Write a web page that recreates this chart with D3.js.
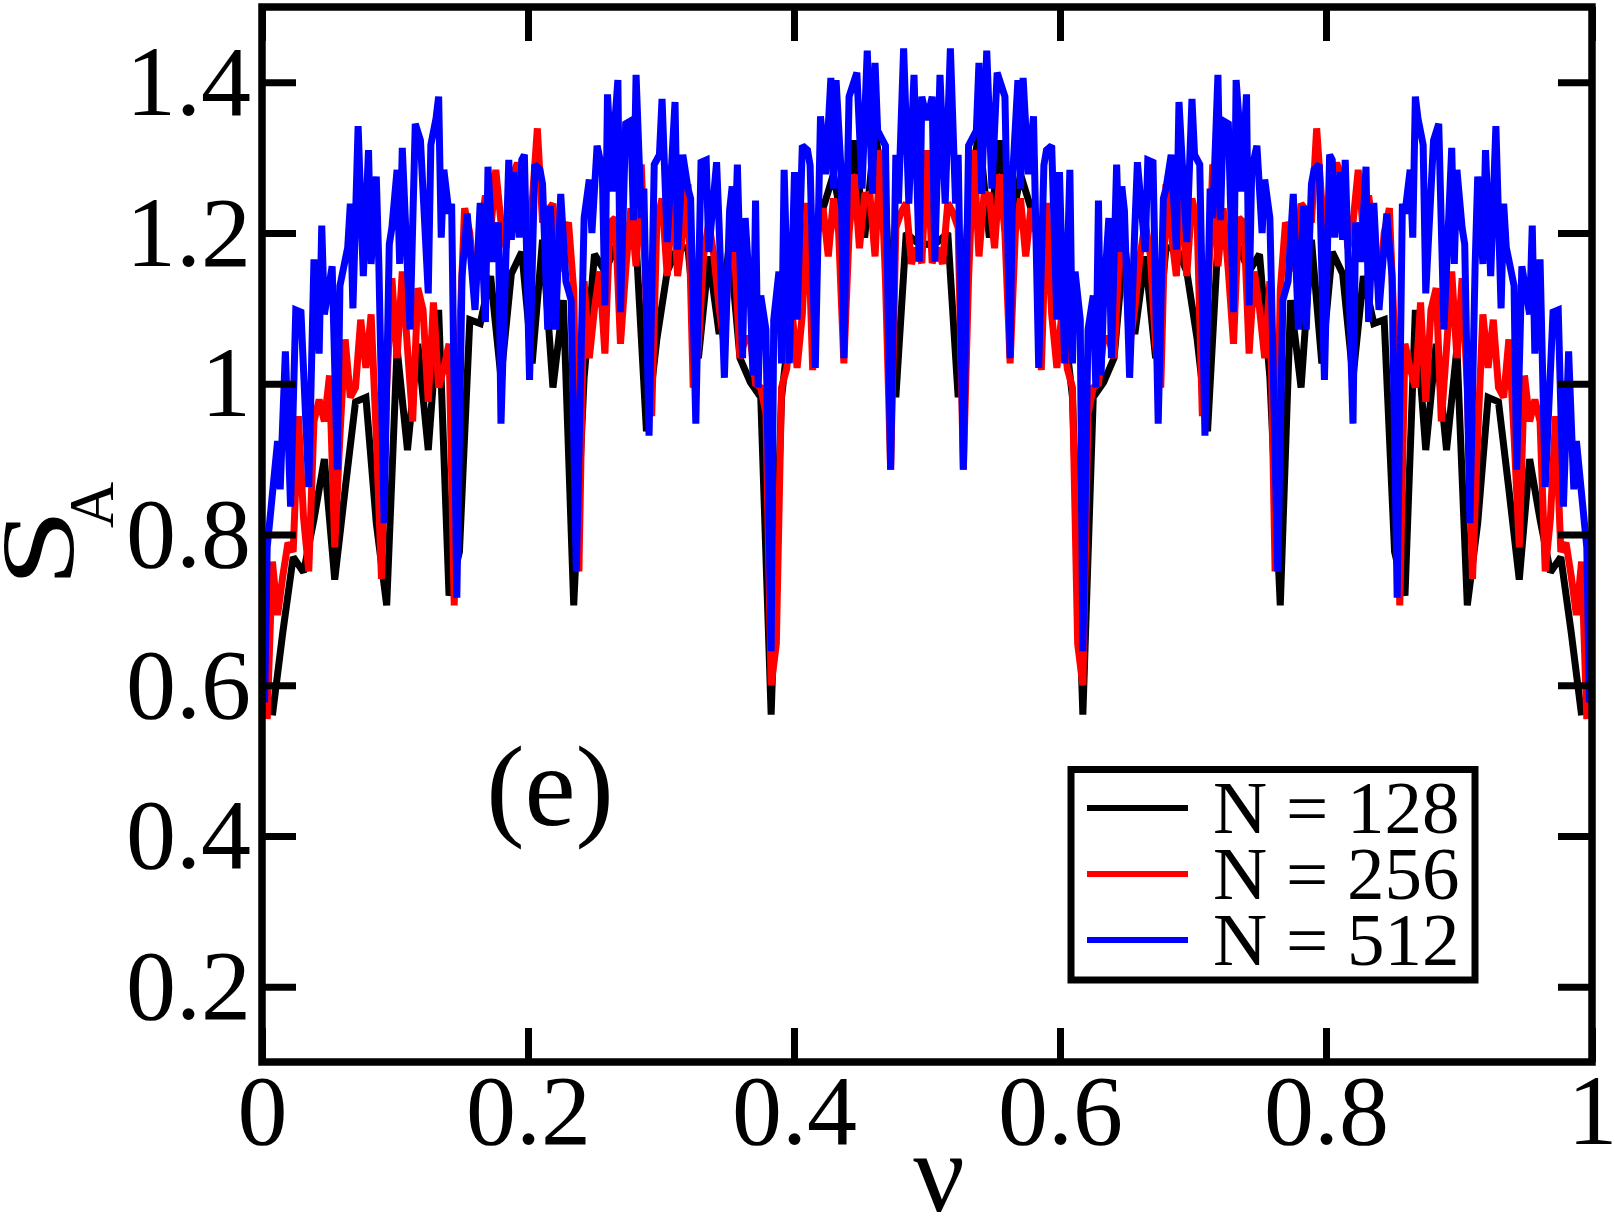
<!DOCTYPE html>
<html><head><meta charset="utf-8">
<script src="https://cdn.jsdelivr.net/npm/d3@7"></script>
<style>html,body{margin:0;padding:0;background:#fff;} svg{display:block;}</style>
</head><body>
<svg id="chart" width="1615" height="1219"></svg>
<script>
// ---------- data ----------
const xTicks = [0, 0.2, 0.4, 0.6, 0.8, 1];
const xTickLabels = ["0", "0.2", "0.4", "0.6", "0.8", "1"];
const yTicks = [0.2, 0.4, 0.6, 0.8, 1.0, 1.2, 1.4];
const yTickLabels = ["0.2", "0.4", "0.6", "0.8", "1", "1.2", "1.4"];
const seriesNames = ["N = 128", "N = 256", "N = 512"];
const seriesColors = ["#000000", "#ff0000", "#0000ff"];

// N = 128 : S_A at nu = k/128, k = 1..127
const black128 = [0.56,0.67,0.77,0.75,0.82,0.90,0.74,0.86,0.976,0.982,
0.815,0.706,1.047,0.912,1.053,0.912,1.098,0.719,0.777,1.085,
1.08,1.143,1.008,1.146,1.175,1.027,1.191,0.995,1.111,0.706,
1.008,1.172,1.149,1.181,1.19,1.188,0.937,1.059,1.149,1.181,
1.18,1.034,1.169,1.066,1.188,1.034,1.002,0.982,0.561,0.982,
1.104,1.117,1.2,1.233,1.278,1.2,1.323,1.194,1.336,1.24,
0.982,1.2,1.188,1.185,
1.188,1.2,0.982,1.24,1.336,1.194,1.323,1.2,1.278,1.233,
1.2,1.117,1.104,0.982,0.561,0.982,1.002,1.034,1.188,1.066,
1.169,1.034,1.18,1.181,1.149,1.059,0.937,1.188,1.19,1.181,
1.149,1.172,1.008,0.706,1.111,0.995,1.191,1.027,1.175,1.146,
1.008,1.143,1.08,1.085,0.777,0.719,1.098,0.912,1.053,0.912,
1.047,0.706,0.815,0.982,0.976,0.86,0.74,0.90,0.82,0.75,
0.77,0.67,0.56];

// N = 256 : S_A at nu = k/256, k = 1..255
const red256 = [0.555,0.764,0.693,0.745,0.789,0.777,0.957,0.822,0.751,0.95,
0.979,0.95,1.011,0.783,0.931,1.059,0.982,0.995,1.085,1.021,
1.092,0.931,0.741,0.995,1.14,1.034,1.149,1.047,0.95,1.127,
1.098,0.976,1.108,0.995,1.021,1.053,0.706,1.06,1.233,1.2,
1.12,1.2,1.25,1.2,1.284,1.214,1.18,1.27,1.29,1.29,
1.2,1.24,1.339,1.214,1.23,1.239,1.149,1.2,1.214,1.124,
0.751,1.136,1.034,1.1,1.149,1.04,1.214,1.22,1.053,1.15,
1.233,1.156,1.291,1.1,0.957,1.214,1.246,1.143,1.271,1.143,
1.2,1.265,0.995,1.05,1.17,1.214,1.169,1.1,1.05,1.19,
1.169,1.034,1.06,1.06,1.0,0.995,0.96,0.6,0.655,0.995,
1.02,1.098,1.021,1.092,1.24,1.018,1.2,1.233,1.169,1.246,
1.2,1.027,1.2,1.278,1.18,1.25,1.252,1.169,1.31,1.14,
0.886,1.207,1.227,1.24,1.159,1.18,1.16,1.31,
1.16,1.18,1.159,1.24,1.227,1.207,0.886,
1.14,1.31,1.169,1.252,1.25,1.18,1.278,1.2,1.027,1.2,
1.246,1.169,1.233,1.2,1.018,1.24,1.092,1.021,1.098,1.02,
0.995,0.655,0.6,0.96,0.995,1.0,1.06,1.06,1.034,1.169,
1.19,1.05,1.1,1.169,1.214,1.17,1.05,0.995,1.265,1.2,
1.143,1.271,1.143,1.246,1.214,0.957,1.1,1.291,1.156,1.233,
1.15,1.053,1.22,1.214,1.04,1.149,1.1,1.034,1.136,0.751,
1.124,1.214,1.2,1.149,1.239,1.23,1.214,1.339,1.24,1.2,
1.29,1.29,1.27,1.18,1.214,1.284,1.2,1.25,1.2,1.12,
1.2,1.233,1.06,0.706,1.053,1.021,0.995,1.108,0.976,1.098,
1.127,0.95,1.047,1.149,1.034,1.14,0.995,0.741,0.931,1.092,
1.021,1.085,0.995,0.982,1.059,0.931,0.783,1.011,0.95,0.979,
0.95,0.751,0.822,0.957,0.777,0.789,0.745,0.693,0.764,0.555];

const blueK512 = [1,2,6,7,9,11,13,15,18,20,
22,23,24,27,29,30,33,34,35,37,
39,41,42,44,45,47,49,50,52,53,
54,57,59,61,64,65,67,68,69,70,
72,73,75,77,79,82,84,86,87,89,
91,92,95,96,97,99,100,101,103,105,
107,108,110,111,113,115,117,119,121,124,
126,127,129,131,132,133,135,136,137,138,
140,142,143,144,146,147,149,151,153,154,
156,158,159,160,162,164,165,167,169,171,
172,175,176,178,180,181,182,183,185,186,
188,189,190,191,192,194,196,197,199,200,
201,203,205,206,208,210,211,213,215,217,
219,220,221,223,224,226,229,231,233,235,
236,237,240,242,244,245,247,249,251,253,
254,256,
258,259,261,263,265,267,268,270,272,275,276,277,279,281,283,286,288,289,291,292,
293,295,297,299,301,302,304,306,307,309,311,312,313,315,316,318,320,321,322,323,
324,326,327,329,330,331,332,334,336,337,340,341,343,345,347,348,350,352,353,354,
356,358,359,361,363,365,366,368,369,370,372,374,375,376,377,379,380,381,383,385,
386,388,391,393,395,397,399,401,402,404,405,407,409,411,412,413,415,416,417,420,
421,423,425,426,428,430,433,435,437,439,440,442,443,444,445,447,448,451,453,455,
458,459,460,462,463,465,467,468,470,471,473,475,477,478,479,482,483,485,488,489,
490,492,494,497,499,501,503,505,506,510,511];
const blue512 = [0.577,0.783,0.924,0.86,1.043,0.837,1.098,1.095,0.863,1.165,
1.04,1.21,1.092,1.156,0.886,1.13,1.181,1.239,1.1,1.342,
1.143,1.31,1.159,1.275,1.156,0.815,1.185,1.207,1.284,1.159,
1.313,1.072,1.345,1.323,1.12,1.317,1.352,1.381,1.194,1.284,
1.226,1.239,0.716,1.143,1.226,1.098,1.24,1.082,1.288,1.162,
1.214,0.947,1.297,1.191,1.281,1.194,1.297,1.304,1.005,1.291,
1.284,1.265,1.072,1.236,1.072,1.252,1.136,1.111,0.751,1.22,
1.271,1.2,1.316,1.284,1.104,1.384,1.255,1.355,1.403,1.095,
1.345,1.349,1.217,1.41,1.22,1.259,0.931,1.291,1.304,1.378,
1.188,1.31,1.374,1.178,1.304,1.259,1.246,0.947,1.294,1.297,
1.175,1.294,1.207,1.008,1.23,1.262,1.175,1.291,1.034,1.22,
1.111,1.011,1.243,0.995,1.117,1.072,0.645,1.085,1.149,1.027,
1.284,1.027,1.281,1.085,1.316,1.31,1.29,1.021,1.355,1.278,
1.406,1.259,1.403,1.278,1.034,1.381,1.413,1.259,1.442,1.252,
1.426,1.336,1.316,0.886,1.304,1.239,1.445,1.239,1.41,1.162,
1.381,1.35,
1.381,1.162,1.41,1.239,1.445,1.239,1.304,0.886,1.316,1.336,1.426,1.252,1.442,1.259,1.413,1.381,1.034,1.278,1.403,1.259,
1.406,1.278,1.355,1.021,1.29,1.31,1.316,1.085,1.281,1.027,1.284,1.027,1.149,1.085,0.645,1.072,1.117,0.995,1.243,1.011,
1.111,1.22,1.034,1.291,1.175,1.262,1.23,1.008,1.207,1.294,1.175,1.297,1.294,0.947,1.246,1.259,1.304,1.178,1.374,1.31,
1.188,1.378,1.304,1.291,0.931,1.259,1.22,1.41,1.217,1.349,1.345,1.095,1.403,1.355,1.255,1.384,1.104,1.284,1.316,1.2,
1.271,1.22,0.751,1.111,1.136,1.252,1.072,1.236,1.072,1.265,1.284,1.291,1.005,1.304,1.297,1.194,1.281,1.191,1.297,0.947,
1.214,1.162,1.288,1.082,1.24,1.098,1.226,1.143,0.716,1.239,1.226,1.284,1.194,1.381,1.352,1.317,1.12,1.323,1.345,1.072,
1.313,1.159,1.284,1.207,1.185,0.815,1.156,1.275,1.159,1.31,1.143,1.342,1.1,1.239,1.181,1.13,0.886,1.156,1.092,1.21,
1.04,1.165,0.863,1.095,1.098,0.837,1.043,0.86,0.924,0.783,0.577];

// ---------- chart ----------
const FONT = "'Liberation Serif','Times New Roman',Times,serif";
const svg = d3.select("#chart");
const plot = {left: 262, right: 1592, top: 7, bottom: 1062};
const x = d3.scaleLinear().domain([0, 1]).range([plot.left, plot.right]);
const y = d3.scaleLinear().domain([0.1, 1.5]).range([plot.bottom, plot.top]);

svg.append("rect").attr("width", 1615).attr("height", 1219).attr("fill", "#fff");

const series = [
  black128.map((v, i) => [(i + 1) / 128, v]),
  red256.map((v, i) => [(i + 1) / 256, v]),
  blueK512.map((k, i) => [k / 512, blue512[i]])
];

const line = d3.line().x(d => x(d[0])).y(d => y(d[1]));
svg.append("g").selectAll("path").data(series).join("path")
  .attr("d", line)
  .attr("fill", "none")
  .attr("stroke", (d, i) => seriesColors[i])
  .attr("stroke-width", 7)
  .attr("stroke-linejoin", "miter")
  .attr("stroke-miterlimit", 2);

// axes (ticks inward on all four sides)
const TICK = 34;
function styleAxis(g) {
  g.select(".domain").remove();
  g.selectAll(".tick line").attr("stroke", "#000").attr("stroke-width", 7);
  g.selectAll(".tick text").attr("font-family", FONT).attr("font-size", 100).attr("fill", "#000");
}
svg.append("g").attr("transform", `translate(0,${plot.bottom})`)
  .call(d3.axisBottom(x).tickValues(xTicks).tickFormat((d, i) => xTickLabels[i]).tickSize(-TICK).tickPadding(11))
  .call(styleAxis);
svg.append("g").attr("transform", `translate(0,${plot.top})`)
  .call(d3.axisTop(x).tickValues(xTicks).tickFormat("").tickSize(-TICK))
  .call(styleAxis);
svg.append("g").attr("transform", `translate(${plot.left},0)`)
  .call(d3.axisLeft(y).tickValues(yTicks).tickFormat((d, i) => yTickLabels[i]).tickSize(-TICK).tickPadding(11))
  .call(styleAxis);
svg.append("g").attr("transform", `translate(${plot.right},0)`)
  .call(d3.axisRight(y).tickValues(yTicks).tickFormat("").tickSize(-TICK))
  .call(styleAxis);

// frame
svg.append("rect")
  .attr("x", plot.left).attr("y", plot.top)
  .attr("width", plot.right - plot.left).attr("height", plot.bottom - plot.top)
  .attr("fill", "none").attr("stroke", "#000").attr("stroke-width", 7.5);

// axis titles
svg.append("text").attr("x", 939).attr("y", 1211)
  .attr("text-anchor", "middle").attr("font-family", FONT).attr("font-size", 114)
  .text("ν");
svg.append("text").attr("transform", "translate(73,548) rotate(-90) scale(1.35,1)")
  .attr("text-anchor", "middle").attr("font-family", FONT).attr("font-size", 104)
  .text("S");
svg.append("text").attr("transform", "translate(113,505) rotate(-90)")
  .attr("text-anchor", "middle").attr("font-family", FONT).attr("font-size", 64)
  .text("A");

// panel label
svg.append("text").attr("x", 550).attr("y", 825)
  .attr("text-anchor", "middle").attr("font-family", FONT).attr("font-size", 115)
  .text("(e)");

// legend
const lg = svg.append("g");
lg.append("rect").attr("x", 1071).attr("y", 769.5).attr("width", 404).attr("height", 210.5)
  .attr("fill", "#fff").attr("stroke", "#000").attr("stroke-width", 7);
const rows = lg.selectAll("g.row").data(seriesNames).join("g").attr("class", "row")
  .attr("transform", (d, i) => `translate(0,${808 + i * 66})`);
rows.append("line").attr("x1", 1087).attr("x2", 1188).attr("y1", 0).attr("y2", 0)
  .attr("stroke", (d, i) => seriesColors[i]).attr("stroke-width", 6);
rows.append("text").attr("x", 1213).attr("y", 25)
  .attr("font-family", FONT).attr("font-size", 75).attr("fill", "#000")
  .text(d => d);
</script>
</body></html>
